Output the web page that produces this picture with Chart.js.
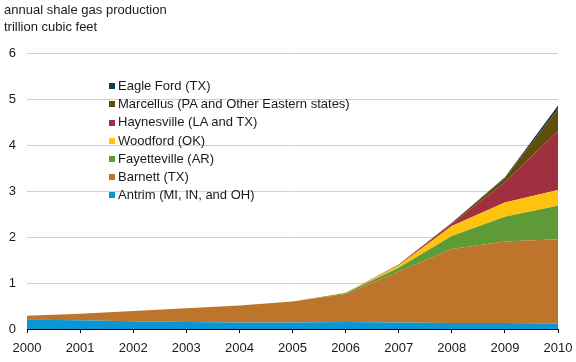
<!DOCTYPE html>
<html>
<head>
<meta charset="utf-8">
<script src="https://cdn.jsdelivr.net/npm/chart.js@4/dist/chart.umd.min.js"></script>
<style>
  html, body { margin: 0; padding: 0; background: #fff; }
  #wrap { position: relative; width: 576px; height: 362px; font-family: "Liberation Sans", Arial, sans-serif; color: #1a1a1a; }
  #c { position: absolute; left: 0; top: 0; }
  .ttl { position: absolute; left: 4px; font-size: 13px; line-height: 17px; white-space: nowrap; }
  #legend { position: absolute; left: 109px; top: 77px; font-size: 13px; line-height: 18.2px; }
  .li { display: flex; align-items: center; white-space: nowrap; }
  .sw { width: 6px; height: 6px; margin-right: 3px; display: inline-block; }
</style>
</head>
<body>
<div id="wrap">
  <canvas id="c" width="576" height="362"></canvas>
  <div class="ttl" style="top:1px">annual shale gas production</div>
  <div class="ttl" style="top:18px">trillion cubic feet</div>
  <div id="legend"></div>
</div>
<script>
const years = ["2000","2001","2002","2003","2004","2005","2006","2007","2008","2009","2010"];
const yTicks = [0, 1, 2, 3, 4, 5, 6];

const antrim       = [0.20, 0.19, 0.17, 0.15, 0.14, 0.14, 0.15, 0.14, 0.13, 0.13, 0.12];
const barnett      = [0.09, 0.14, 0.22, 0.30, 0.37, 0.46, 0.61, 1.11, 1.61, 1.77, 1.83];
const fayetteville = [0, 0, 0, 0, 0, 0, 0.02, 0.08, 0.28, 0.54, 0.73];
const woodford     = [0, 0, 0, 0, 0, 0, 0.01, 0.05, 0.22, 0.31, 0.34];
const haynesville  = [0, 0, 0, 0, 0, 0, 0, 0.01, 0.05, 0.44, 1.29];
const marcellus    = [0, 0, 0, 0, 0, 0, 0, 0.01, 0.02, 0.09, 0.47];
const eagleFord    = [0, 0, 0, 0, 0, 0, 0, 0, 0, 0.02, 0.08];

const seriesNames  = ["Antrim (MI, IN, and OH)", "Barnett (TX)", "Fayetteville (AR)", "Woodford (OK)",
                      "Haynesville (LA and TX)", "Marcellus (PA and Other Eastern states)", "Eagle Ford (TX)"];
const seriesValues = [antrim, barnett, fayetteville, woodford, haynesville, marcellus, eagleFord];
const seriesColors = ["#0a96d6", "#bd742b", "#5e9a35", "#ffc30f", "#a03040", "#614c0c", "#103c50"];

const datasets = seriesNames.map((name, i) => ({
  label: name,
  data: seriesValues[i],
  backgroundColor: seriesColors[i],
  borderColor: seriesColors[i],
  borderWidth: 0,
  pointRadius: 0,
  tension: 0,
  fill: i === 0 ? 'origin' : '-1'
}));

new Chart(document.getElementById('c'), {
  type: 'line',
  data: { labels: years, datasets: datasets },
  options: {
    responsive: false,
    animation: false,
    layout: { padding: { top: 53, right: 18, bottom: 0, left: 0 } },
    plugins: { legend: { display: false }, tooltip: { enabled: false }, title: { display: false } },
    elements: { line: { borderWidth: 0 } },
    scales: {
      x: {
        type: 'category',
        offset: false,
        grid: { drawOnChartArea: false, drawTicks: true, tickLength: 4, color: '#000' },
        border: { display: true, color: '#000', width: 1 },
        ticks: { color: '#1a1a1a', font: { family: '"Liberation Sans", Arial, sans-serif', size: 13 }, padding: 8, maxRotation: 0, autoSkip: false },
        afterFit: s => { s.height = 33; s.paddingLeft = 14; s.paddingRight = 14; }
      },
      y: {
        stacked: true,
        min: 0, max: 6,
        afterBuildTicks: s => { s.ticks = yTicks.map(v => ({ value: v })); },
        grid: { color: '#d0d0d0', drawTicks: false, lineWidth: 1 },
        border: { display: false },
        ticks: { color: '#1a1a1a', font: { family: '"Liberation Sans", Arial, sans-serif', size: 13 }, padding: 11 },
        afterFit: s => { s.width = 27; }
      }
    }
  }
});

const legend = document.getElementById('legend');
for (let i = seriesNames.length - 1; i >= 0; i--) {
  const row = document.createElement('div');
  row.className = 'li';
  const sw = document.createElement('span');
  sw.className = 'sw';
  sw.style.background = seriesColors[i];
  row.appendChild(sw);
  row.appendChild(document.createTextNode(seriesNames[i]));
  legend.appendChild(row);
}
</script>
</body>
</html>
